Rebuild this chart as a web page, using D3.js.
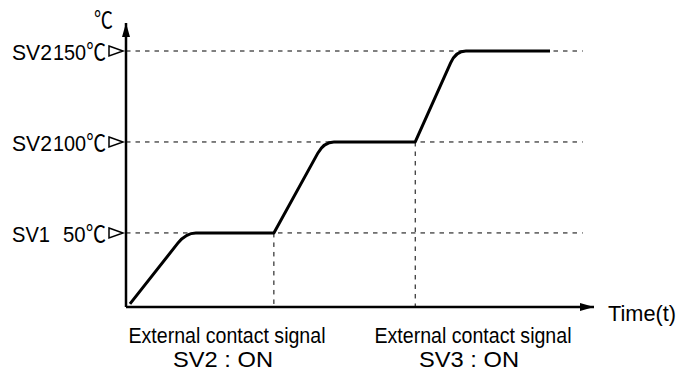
<!DOCTYPE html>
<html>
<head>
<meta charset="utf-8">
<script src="https://cdn.jsdelivr.net/npm/d3@7"></script>
<style>
  html, body { margin: 0; padding: 0; background: #fff; }
  svg text { font-family: "Liberation Sans", Arial, "Noto Sans CJK KR", sans-serif; fill: #000; }
</style>
</head>
<body>
<svg id="chart" width="693" height="374"></svg>
<script>
// Temperature profile: corner points of the ramp/soak program
const profileTime = [0.85, 12.8, 31.6, 42.3, 61.8, 70.5, 90.6];
const profileTemp = [11, 50, 50, 100, 100, 150, 150];
// corners that are rounded (ramp flowing into a soak)
const roundedCorner = [false, true, false, true, false, true, false];

// Set-point reference levels
const spNames  = ["SV1", "SV2", "SV2"];
const spValues = [50, 100, 150];
const spLabels = ["50℃", "100℃", "150℃"];

// External contact switching instants
const switchTimes = [31.6, 61.8];
const switchLevels = [50, 100];
const switchLabels = [["External contact signal", "SV2 : ON"],
                      ["External contact signal", "SV3 : ON"]];

const guideEnd = 97.6;   // right end of the dashed level guides (time units)

const svg = d3.select("#chart");

const x = d3.scaleLinear().domain([0, 100]).range([126, 594]);
const y = d3.scaleLinear().domain([9.3, 150]).range([307, 51]);

// arrowhead markers
const defs = svg.append("defs");
defs.append("marker")
  .attr("id", "arrow")
  .attr("viewBox", "0 0 14 8")
  .attr("refX", 14).attr("refY", 4)
  .attr("markerWidth", 14).attr("markerHeight", 8)
  .attr("markerUnits", "userSpaceOnUse")
  .attr("orient", "auto")
  .append("path").attr("d", "M0,0 L14,4 L0,8 Z").attr("fill", "#000");

// dashed guides for each set point
svg.append("g").selectAll("line").data(spValues).join("line")
  .attr("x1", x(0)).attr("x2", x(guideEnd))
  .attr("y1", d => y(d)).attr("y2", d => y(d))
  .attr("stroke", "#000").attr("stroke-width", 1)
  .attr("stroke-dasharray", "4.5,5");

// dashed verticals at switching instants
svg.append("g").selectAll("line").data(switchTimes).join("line")
  .attr("x1", d => x(d)).attr("x2", d => x(d))
  .attr("y1", (d, i) => y(switchLevels[i])).attr("y2", y.range()[0])
  .attr("stroke", "#000").attr("stroke-width", 1)
  .attr("stroke-dasharray", "4.5,5");

// axes
const x0 = x(0), yBase = y.range()[0];
svg.append("line")
  .attr("x1", x0).attr("y1", yBase).attr("x2", x0).attr("y2", 23)
  .attr("stroke", "#000").attr("stroke-width", 2.5)
  .attr("marker-end", "url(#arrow)");
svg.append("line")
  .attr("x1", x0).attr("y1", yBase).attr("x2", x(100)).attr("y2", yBase)
  .attr("stroke", "#000").attr("stroke-width", 2.5)
  .attr("marker-end", "url(#arrow)");

// profile path with rounded ramp-to-soak corners
const pts = profileTime.map((t, i) => [x(t), y(profileTemp[i])]);
const path = d3.path();
const rIn = 13, rOut = 10;
pts.forEach((p, i) => {
  if (i === 0) { path.moveTo(p[0], p[1]); return; }
  if (roundedCorner[i] && i < pts.length - 1) {
    const a = pts[i - 1], b = pts[i + 1];
    const l1 = Math.hypot(p[0] - a[0], p[1] - a[1]);
    const l2 = Math.hypot(b[0] - p[0], b[1] - p[1]);
    const s = [p[0] - (p[0] - a[0]) * rIn / l1, p[1] - (p[1] - a[1]) * rIn / l1];
    const e = [p[0] + (b[0] - p[0]) * rOut / l2, p[1] + (b[1] - p[1]) * rOut / l2];
    path.lineTo(s[0], s[1]);
    path.quadraticCurveTo(p[0], p[1], e[0], e[1]);
  } else {
    path.lineTo(p[0], p[1]);
  }
});
svg.append("path")
  .attr("d", path.toString())
  .attr("fill", "none").attr("stroke", "#000")
  .attr("stroke-width", 3).attr("stroke-linejoin", "round");

// set-point markers (open right-pointing triangles)
svg.append("g").selectAll("path").data(spValues).join("path")
  .attr("transform", d => `translate(${x0 - 17},${y(d)})`)
  .attr("d", "M0,-5 L14,0 L0,5 Z")
  .attr("fill", "#fff").attr("stroke", "#000").attr("stroke-width", 1.5);

// set-point labels
const fs = 22.5;
svg.append("g").selectAll("text").data(spNames).join("text")
  .attr("x", 12).attr("y", (d, i) => y(spValues[i]) + 9)
  .attr("font-size", fs)
  .attr("textLength", (d, i) => i === 0 ? 38 : 40)
  .attr("lengthAdjust", "spacingAndGlyphs")
  .text(d => d);
svg.append("g").selectAll("text").data(spLabels).join("text")
  .attr("x", 106).attr("y", (d, i) => y(spValues[i]) + 9)
  .attr("text-anchor", "end")
  .attr("font-size", fs)
  .attr("textLength", (d, i) => i === 0 ? 43 : 53)
  .attr("lengthAdjust", "spacingAndGlyphs")
  .text(d => d);

// axis titles
svg.append("text")
  .attr("x", 113).attr("y", 28).attr("text-anchor", "end")
  .attr("font-size", fs).attr("textLength", 19).attr("lengthAdjust", "spacingAndGlyphs")
  .text("℃");
svg.append("text")
  .attr("x", 608).attr("y", 321)
  .attr("font-size", 21.5).attr("textLength", 68).attr("lengthAdjust", "spacingAndGlyphs")
  .text("Time(t)");

// switching annotations beneath the time axis
const annCenters = [227, 473];
switchLabels.forEach((lines, i) => {
  svg.append("text")
    .attr("x", annCenters[i]).attr("y", 343).attr("text-anchor", "middle")
    .attr("font-size", fs).attr("textLength", 197).attr("lengthAdjust", "spacingAndGlyphs")
    .text(lines[0]);
  svg.append("text")
    .attr("x", annCenters[i] - 4).attr("y", 367).attr("text-anchor", "middle")
    .attr("font-size", fs).attr("textLength", 100).attr("lengthAdjust", "spacingAndGlyphs")
    .text(lines[1]);
});
</script>
</body>
</html>
